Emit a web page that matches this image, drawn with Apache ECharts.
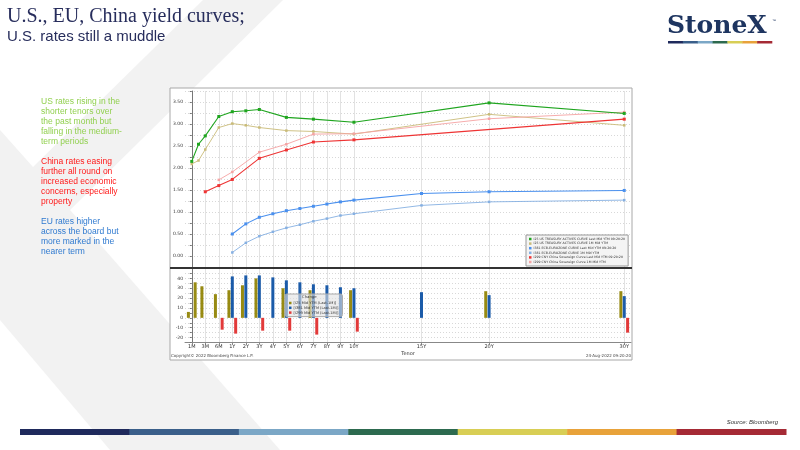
<!DOCTYPE html>
<html>
<head>
<meta charset="utf-8">
<script src="https://cdn.jsdelivr.net/npm/echarts@6/dist/echarts.min.js"></script>
<style>
  html, body { margin: 0; padding: 0; background: #fff; }
  #main { width: 800px; height: 450px; }
</style>
</head>
<body>
<div id="main"></div>
<script>
// tenors and where they sit on the (non-linear) tenor axis
var tenors = ['1M', '2M', '3M', '6M', '1Y', '2Y', '3Y', '4Y', '5Y', '6Y', '7Y', '8Y', '9Y', '10Y', '15Y', '20Y', '30Y'];
var tenorPos = [0, 0.5, 1, 2, 3, 4, 5, 6, 7, 8, 9, 10, 11, 12, 17, 22, 32];
var tickPos = [0, 1, 2, 3, 4, 5, 6, 7, 8, 9, 10, 11, 12, 17, 22, 32];
var tickLabels = ['1M', '3M', '6M', '1Y', '2Y', '3Y', '4Y', '5Y', '6Y', '7Y', '8Y', '9Y', '10Y', '15Y', '20Y', '30Y'];

// yields (%)
var usLast = [2.15, 2.54, 2.73, 3.17, 3.28, 3.30, 3.33, null, 3.15, null, 3.11, null, null, 3.04, null, 3.48, 3.24];
var us1M   = [2.09, 2.17, 2.42, 2.92, 3.01, 2.97, 2.92, null, 2.85, null, 2.83, null, null, 2.77, null, 3.22, 2.97];
var euLast = [null, null, null, null, 0.50, 0.73, 0.88, 0.96, 1.03, 1.08, 1.13, 1.18, 1.23, 1.27, 1.42, 1.46, 1.49];
var eu1M   = [null, null, null, null, 0.08, 0.30, 0.45, 0.55, 0.64, 0.71, 0.79, 0.85, 0.92, 0.96, 1.15, 1.23, 1.27];
var cnLast = [null, null, 1.46, 1.60, 1.74, null, 2.22, null, 2.41, null, 2.59, null, null, 2.64, null, null, 3.11];
var cn1M   = [null, null, null, 1.73, 1.91, null, 2.36, null, 2.54, null, 2.77, null, null, 2.78, null, 3.12, 3.27];

// change last vs 1M ago (bp)
var usChg = [6, 36, 32, 24, 28, 33, 40, null, 30, null, 28, null, null, 28, null, 27, 27];
var euChg = [null, null, null, null, 42, 43, 43, 41, 38, 36, 34, 33, 31, 30, 26, 23, 22];
var cnChg = [null, null, null, -12, -16, null, -13, null, -13, null, -17, null, null, -14, null, null, -15];

var lineNames = [
  'I25 US TREASURY ACTIVES CURVE Last Mid YTM 09:20:20',
  'I25 US TREASURY ACTIVES CURVE 1M Mid YTM',
  'I381 ECB-EUROZONE CURVE Last Mid YTM 09:20:20',
  'I381 ECB-EUROZONE CURVE 1M Mid YTM',
  'I299 CNY China Sovereign Curve Last Mid YTM 09:20:20',
  'I299 CNY China Sovereign Curve 1M Mid YTM'
];
var barNames = ['[I25 Mid YTM (Last-1M)]', '[I381 Mid YTM (Last-1M)]', '[I299 Mid YTM (Last-1M)]'];

var lineColors = ['#1fa51f', '#c9bb78', '#4a90ee', '#86b0e2', '#ee3434', '#f5a3a3'];
var barColors = ['#978a12', '#1b5ba9', '#e23a3a'];
var stripe = ['#1f2a5c', '#3a5f8a', '#7ba7c6', '#2d6a4f', '#d8ce55', '#e8a23a', '#a52a35'];

function pairs(vals) {
  var out = [];
  for (var i = 0; i < vals.length; i++) {
    if (vals[i] != null) out.push([tenorPos[i], vals[i]]);
  }
  return out;
}

var chart = echarts.init(document.getElementById('main'));

var xBase = {
  type: 'value', min: -0.5, max: 32.5,
  axisLine: { show: true, onZero: false, lineStyle: { color: '#888' } },
  axisTick: { show: true, customValues: tickPos, length: 2, lineStyle: { color: '#888' } },
  splitLine: { show: true, lineStyle: { color: '#e2e2e2', width: 1 } }
};

var lineSeries = [usLast, us1M, euLast, eu1M, cnLast, cn1M].map(function (d, i) {
  var last = i % 2 == 0;
  return {
    name: lineNames[i], type: 'line', xAxisIndex: 0, yAxisIndex: 0,
    data: pairs(d), connectNulls: true,
    symbol: 'rect', symbolSize: last ? 3 : 2.5, showSymbol: true,
    lineStyle: { color: lineColors[i], width: last ? 1.1 : 0.9 },
    itemStyle: { color: lineColors[i] },
    z: last ? 4 : 3
  };
});

var barSeries = [usChg, euChg, cnChg].map(function (d, i) {
  return {
    name: barNames[i], type: 'bar', xAxisIndex: 1, yAxisIndex: 1,
    data: pairs(d), barWidth: 3, barGap: '12%',
    itemStyle: { color: barColors[i] }
  };
});

var graphics = [
  // slide background chevron
  { type: 'polygon', z: -30, silent: true,
    shape: { points: [[203, 0], [283, 0], [70, 210], [280, 450], [110, 450], [0, 320], [0, 130], [33, 167]] },
    style: { fill: '#f2f2f2' } },
  // chart frame
  { type: 'rect', z: -20, shape: { x: 170, y: 88, width: 462, height: 272 },
    style: { fill: '#fff', stroke: '#a8a8a8', lineWidth: 1 } },
  { type: 'line', z: 10, shape: { x1: 170, y1: 268, x2: 632, y2: 268 },
    style: { stroke: '#333', lineWidth: 2 } },
  { type: 'text', left: 171, top: 354,
    style: { text: 'Copyright\u00a9 2022 Bloomberg Finance L.P.', font: '4px "DejaVu Sans"', fill: '#444' } },
  { type: 'text', right: 169, top: 354,
    style: { text: '24-Aug-2022 09:20:20', font: '4px "DejaVu Sans"', fill: '#444' } },
  // "Change" legend title
  { type: 'text', left: 302, top: 295, z: 20,
    style: { text: 'Change', font: '3.8px "DejaVu Sans"', fill: '#333' } },
  // title
  { type: 'text', left: 7, top: 7,
    style: { text: 'U.S., EU, China yield curves;', font: '20px "Liberation Serif"', fill: '#272d5c' } },
  { type: 'text', left: 7, top: 29,
    style: { text: 'U.S. rates still a muddle', font: '15px "Liberation Sans"', fill: '#272d5c' } },
  // logo
  { type: 'text', left: 667, top: 14,
    style: { text: 'StoneX', font: 'bold 25px "DejaVu Serif"', fill: '#1e3560' } },
  { type: 'text', left: 772, top: 19,
    style: { text: '\u2122', font: '4px "Liberation Sans"', fill: '#1e3560' } },
  // commentary
  { type: 'text', left: 41, top: 97,
    style: { text: 'US rates rising in the\nshorter tenors over\nthe past month but\nfalling in the medium-\nterm periods',
      font: '8.5px "Liberation Sans"', lineHeight: 10, fill: '#92d050' } },
  { type: 'text', left: 41, top: 157,
    style: { text: 'China rates easing\nfurther all round on\nincreased economic\nconcerns, especially\nproperty',
      font: '8.5px "Liberation Sans"', lineHeight: 10, fill: '#ff1a1a' } },
  { type: 'text', left: 41, top: 217,
    style: { text: 'EU rates higher\nacross the board but\nmore marked in the\nnearer term',
      font: '8.5px "Liberation Sans"', lineHeight: 10, fill: '#2f7ad0' } },
  { type: 'text', right: 22, top: 419,
    style: { text: 'Source: Bloomberg', font: 'italic 6px "Liberation Sans"', fill: '#333' } }
];
stripe.forEach(function (c, i) {
  var w = 766 / 7;
  graphics.push({ type: 'rect', shape: { x: 20 + i * w, y: 429, width: w + 0.5, height: 6 }, style: { fill: c } });
  var lw = 104 / 7;
  graphics.push({ type: 'rect', shape: { x: 668 + i * lw, y: 41, width: lw + 0.3, height: 2.5 }, style: { fill: c } });
});

chart.setOption({
  backgroundColor: '#fff',
  animation: false,
  textStyle: { fontFamily: 'DejaVu Sans' },
  grid: [
    { left: 185, right: 169, top: 91, height: 176 },
    { left: 185, right: 169, top: 268.5, height: 74 }
  ],
  legend: [
    { data: lineNames, orient: 'vertical', left: 526, top: 235,
      itemWidth: 2.5, itemHeight: 2.5, itemGap: 1.6, padding: [2.5, 3, 2.5, 3],
      icon: 'rect', backgroundColor: '#f4f4f4', borderColor: '#999', borderWidth: 1, z: 12,
      textStyle: { fontSize: 3.2, color: '#333', padding: [0, 0, 0, -3] } },
    { data: barNames, orient: 'vertical', left: 285, top: 294,
      itemWidth: 2.5, itemHeight: 2.5, itemGap: 0.8, padding: [7, 4, 2, 4],
      icon: 'rect', backgroundColor: 'rgba(225,225,225,0.6)', borderColor: '#aaa', borderWidth: 1,
      borderRadius: 2,
      textStyle: { fontSize: 3.6, color: '#333', padding: [0, 0, 0, -3] } }
  ],
  xAxis: [
    Object.assign({}, xBase, { gridIndex: 0, axisLabel: { show: false } }),
    Object.assign({}, xBase, { gridIndex: 1,
      name: 'Tenor', nameLocation: 'middle', nameGap: 9,
      nameTextStyle: { fontSize: 5, color: '#333' },
      axisLabel: { customValues: tickPos, fontSize: 5, color: '#333', margin: 2,
        formatter: function (v) { var k = tickPos.indexOf(v); return k < 0 ? '' : tickLabels[k]; } } })
  ],
  yAxis: [
    { type: 'value', gridIndex: 0, min: -0.25, max: 3.75, interval: 0.25,
      axisLine: { show: true, lineStyle: { color: '#777' } },
      axisTick: { show: true, length: 2, lineStyle: { color: '#777' } },
      axisLabel: { fontSize: 4.5, color: '#333', margin: 2,
        formatter: function (v) { return (v >= 0 && Math.abs(v * 2 - Math.round(v * 2)) < 1e-6) ? v.toFixed(2) : ''; } },
      splitLine: { show: true, lineStyle: { color: '#d8d8d8', type: [1, 2] } } },
    { type: 'value', gridIndex: 1, min: -25, max: 50, interval: 5,
      axisLine: { show: true, lineStyle: { color: '#777' } },
      axisTick: { show: true, length: 2, lineStyle: { color: '#777' } },
      axisLabel: { fontSize: 4.5, color: '#333', margin: 2,
        formatter: function (v) { return (v % 10 == 0 && v >= -20 && v <= 40) ? String(v) : ''; } },
      splitLine: { show: true, lineStyle: { color: '#d8d8d8', type: [1, 2] } } }
  ],
  series: lineSeries.concat(barSeries),
  graphic: graphics
});
</script>
</body>
</html>
